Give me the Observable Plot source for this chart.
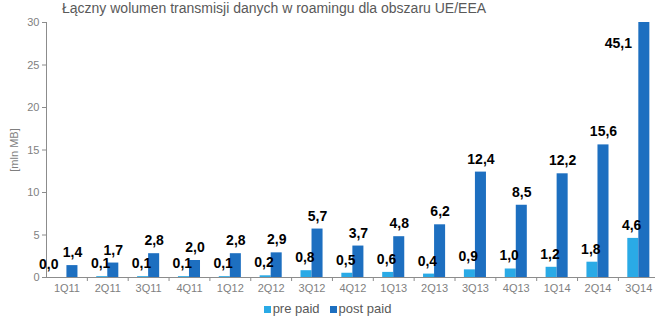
<!DOCTYPE html>
<html><head><meta charset="utf-8">
<script src="https://cdn.jsdelivr.net/npm/d3@7"></script>
<script src="https://cdn.jsdelivr.net/npm/@observablehq/plot@0.6"></script>
<style>
body{margin:0;background:#fff;font-family:Arial,"Liberation Sans",sans-serif;width:655px;height:324px;overflow:hidden;}
#title{height:16px;line-height:16px;font-size:14px;color:#595959;padding-left:62px;white-space:nowrap;}
#chart svg{display:block;}
#legend{display:flex;justify-content:center;align-items:center;gap:10px;height:16px;font-size:13px;color:#595959;}
#legend span.sw{display:inline-block;width:7px;height:7px;margin-right:2px;}
</style></head><body>
<div id="title">Łączny wolumen transmisji danych w roamingu dla obszaru UE/EEA</div>
<div id="chart"></div>
<div id="legend"></div>
<script>
const quarters = ["1Q11","2Q11","3Q11","4Q11","1Q12","2Q12","3Q12","4Q12","1Q13","2Q13","3Q13","4Q13","1Q14","2Q14","3Q14"];
const prePaid  = [0.0,0.1,0.1,0.1,0.1,0.2,0.8,0.5,0.6,0.4,0.9,1.0,1.2,1.8,4.6];
const postPaid = [1.4,1.7,2.8,2.0,2.8,2.9,5.7,3.7,4.8,6.2,12.4,8.5,12.2,15.6,45.1];
const seriesNames = ["pre paid","post paid"];
const seriesColors = ["#2aaae6","#1d6fc0"];
const yTicks = [0,5,10,15,20,25,30];
const yLabel = "[mln MB]";

const yMax = 30;
const w = 0.27; // bar width in band units
const rows = [];
quarters.forEach((q, i) => {
  rows.push({i, q, series: "pre paid", value: prePaid[i], other: postPaid[i]});
  rows.push({i, q, series: "post paid", value: postPaid[i], other: prePaid[i]});
});
const fmt = d => d.value.toFixed(1).replace(".", ",");
const isPre = d => d.series === "pre paid";
const gray = "#8c8c8c";
const labelFont = "'Liberation Sans Narrow','Arial Narrow',Arial,sans-serif";
// pre-paid label nudged left when it would collide with the post-paid label
const labelX = d => isPre(d)
  ? d.i - w / 2 - 0.04 - (d.other - d.value < 1.5 ? 0.27 : 0)
  : d.i + w / 2;

const chart = Plot.plot({
  width: 655, height: 284,
  marginLeft: 46, marginRight: 0, marginTop: 6, marginBottom: 23,
  style: {fontFamily: "Arial, 'Liberation Sans', sans-serif", background: "#fff"},
  x: {type: "linear", domain: [-0.5, -0.5 + 609 / 40.85], label: null},
  y: {domain: [0, yMax], label: null},
  color: {domain: seriesNames, range: seriesColors},
  marks: [
    Plot.rectY(rows, {
      x1: d => isPre(d) ? d.i - w : d.i,
      x2: d => isPre(d) ? d.i : d.i + w,
      y1: 0, y2: "value", fill: "series", clip: true
    }),
    Plot.ruleY([0], {stroke: gray}),
    Plot.ruleX([-0.5], {stroke: gray}),
    Plot.axisX(d3.range(0.5, quarters.length - 1, 1), {tickSize: 4, stroke: gray, text: null, label: null}),
    Plot.axisX(d3.range(0, quarters.length), {tickSize: 0, tickPadding: 7, tickFormat: i => quarters[i], fill: "#7f7f7f", fontSize: 11, label: null}),
    Plot.axisY(yTicks, {tickSize: 4, tickPadding: 3, stroke: gray, fill: "#7f7f7f", fontSize: 11,
      label: yLabel, labelAnchor: "center", labelArrow: "none", labelOffset: 36}),
    Plot.text(rows.filter(d => d.value <= yMax), {
      x: labelX, y: "value", text: fmt,
      dy: -13, lineAnchor: "middle", textAnchor: "middle",
      fontWeight: "bold", fontSize: 14, fontFamily: labelFont, fill: "black"
    }),
    Plot.text(rows.filter(d => d.value > yMax), {
      x: d => d.i + w / 2, y: () => yMax - 2.5, text: fmt,
      dx: -26, lineAnchor: "middle", textAnchor: "middle",
      fontWeight: "bold", fontSize: 14, fontFamily: labelFont, fill: "black"
    })
  ]
});
document.getElementById("chart").appendChild(chart);

const legend = document.getElementById("legend");
seriesNames.forEach((s, k) => {
  const item = document.createElement("div");
  item.innerHTML = `<span class="sw" style="background:${seriesColors[k]}"></span>${s}`;
  legend.appendChild(item);
});
</script>
</body></html>
